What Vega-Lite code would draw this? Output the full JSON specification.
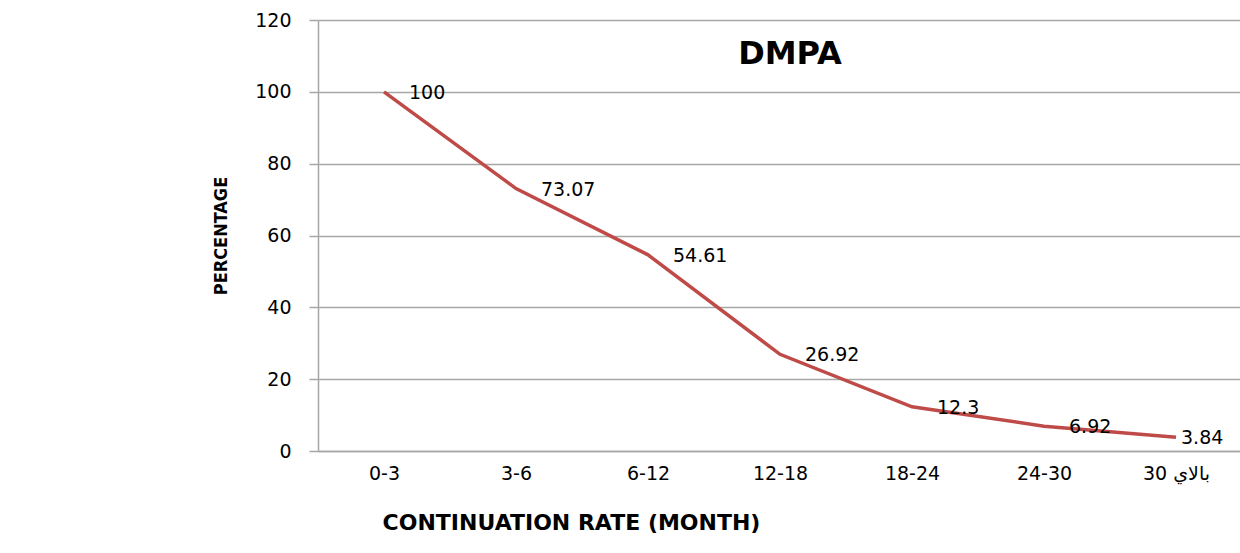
{
  "$schema": "https://vega.github.io/schema/vega-lite/v6.json",
  "autosize": {"type": "none"},
  "padding": {"left": 318, "top": 20, "right": 0, "bottom": 102},
  "width": 924,
  "height": 431,
  "background": "white",
  "title": {
    "text": "DMPA",
    "orient": "top",
    "anchor": "middle",
    "frame": "group",
    "offset": -60,
    "dx": 10,
    "font": "DejaVu Sans",
    "fontSize": 32,
    "fontWeight": "bold",
    "color": "#000000"
  },
  "data": {
    "values": [
      {"period": "0-3", "pct": 100, "label": "100"},
      {"period": "3-6", "pct": 73.07, "label": "73.07"},
      {"period": "6-12", "pct": 54.61, "label": "54.61"},
      {"period": "12-18", "pct": 26.92, "label": "26.92"},
      {"period": "18-24", "pct": 12.3, "label": "12.3"},
      {"period": "24-30", "pct": 6.92, "label": "6.92"},
      {"period": "بالاي 30", "pct": 3.84, "label": "3.84"}
    ]
  },
  "encoding": {
    "x": {
      "field": "period",
      "type": "ordinal",
      "sort": null,
      "scale": {"paddingInner": 0, "paddingOuter": 0},
      "axis": {
        "title": "CONTINUATION RATE (MONTH)",
        "titleFont": "DejaVu Sans",
        "titleFontSize": 22,
        "titleFontWeight": "bold",
        "titleColor": "#000000",
        "titleX": 253,
        "titleY": 78,
        "titleAlign": "center",
        "titleBaseline": "alphabetic",
        "labelAngle": 0,
        "labelFont": "DejaVu Sans",
        "labelFontSize": 19,
        "labelColor": "#000000",
        "labelPadding": 13,
        "ticks": false,
        "domainColor": "#a6a6a6",
        "domainWidth": 1.5,
        "grid": false
      }
    },
    "y": {
      "field": "pct",
      "type": "quantitative",
      "scale": {"domain": [0, 120], "nice": false},
      "axis": {
        "title": "PERCENTAGE",
        "titleFont": "DejaVu Sans Condensed",
        "titleFontSize": 18,
        "titleFontWeight": "bold",
        "titleColor": "#000000",
        "titlePadding": 24,
        "values": [0, 20, 40, 60, 80, 100, 120],
        "labelFont": "DejaVu Sans",
        "labelFontSize": 19,
        "labelColor": "#000000",
        "labelPadding": 18,
        "tickSize": 9,
        "tickColor": "#a6a6a6",
        "tickWidth": 1.5,
        "domainColor": "#a6a6a6",
        "domainWidth": 1.5,
        "grid": true,
        "gridColor": "#a6a6a6",
        "gridWidth": 1.5
      }
    }
  },
  "layer": [
    {
      "mark": {"type": "line", "color": "#be4b48", "strokeWidth": 3.5}
    },
    {
      "transform": [{"filter": "datum.period != 'بالاي 30'"}],
      "mark": {"type": "text", "align": "left", "baseline": "middle", "dx": 25, "dy": 1, "font": "DejaVu Sans", "fontSize": 19, "color": "#000000"},
      "encoding": {"text": {"field": "label"}}
    },
    {
      "transform": [{"filter": "datum.period == 'بالاي 30'"}],
      "mark": {"type": "text", "align": "left", "baseline": "middle", "dx": 5, "dy": 1, "font": "DejaVu Sans", "fontSize": 19, "color": "#000000"},
      "encoding": {"text": {"field": "label"}}
    }
  ],
  "config": {"view": {"stroke": null}}
}
